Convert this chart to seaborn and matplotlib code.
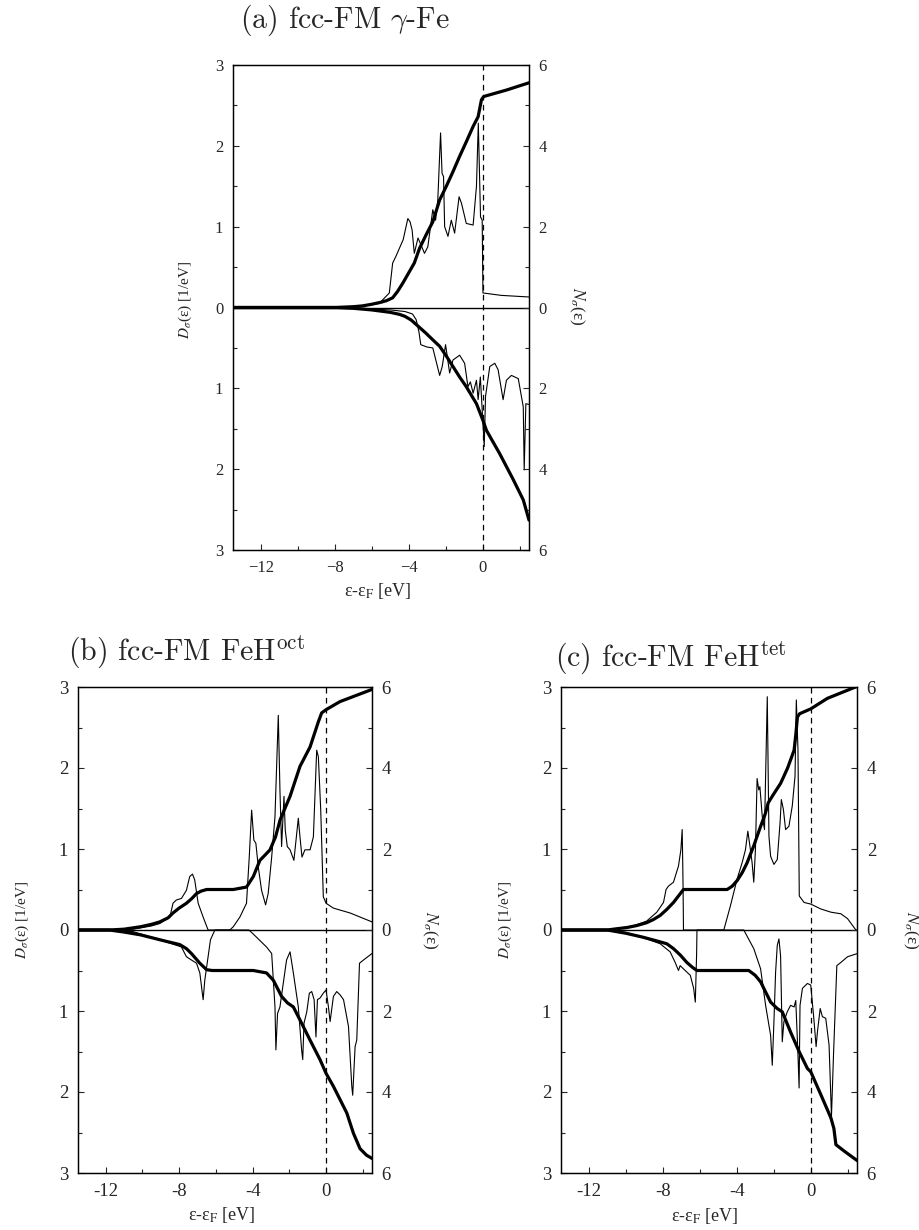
import matplotlib
matplotlib.use("Agg")
import numpy as np
import matplotlib.pyplot as plt
import seaborn as sns
from matplotlib.ticker import MultipleLocator

sns.set_theme(style="ticks")
plt.rcParams["font.family"] = ["Liberation Serif", "DejaVu Serif"]
plt.rcParams["mathtext.fontset"] = "stix"

# ---------------------------------------------------------------------------
# (a) fcc-FM gamma-Fe : spin-resolved DOS [1/eV] and integrated N [electrons]
# ---------------------------------------------------------------------------
a_up_e = [-13.5, -7.5, -6.5, -5.6, -5.05, -4.87, -4.7, -4.3, -4.05, -3.93, -3.82,
          -3.7, -3.5, -3.33, -3.15, -2.97, -2.7, -2.55, -2.43, -2.28, -2.2, -2.12,
          -2.06, -1.88, -1.7, -1.52, -1.28, -1.15, -0.89, -0.52, -0.34, -0.24,
          -0.12, -0.03, 0.01, 1.0, 2.5]
a_up_dos = [0.0, 0.0, 0.02, 0.05, 0.18, 0.55, 0.63, 0.84, 1.10, 1.06, 0.96,
            0.67, 0.86, 0.77, 0.67, 0.75, 1.21, 1.08, 1.33, 2.16, 1.66, 1.62,
            1.0, 0.88, 1.08, 0.92, 1.37, 1.29, 1.04, 1.02, 1.50, 2.28,
            1.12, 1.08, 0.18, 0.15, 0.13]
a_up_ne = [-13.5, -8.0, -7.0, -6.5, -6.0, -5.5, -5.2, -4.87, -4.6, -4.3, -4.0,
           -3.7, -3.42, -3.06, -2.70, -2.33, -1.97, -1.61, -1.25, -0.89, -0.52,
           -0.25, -0.07, 0.05, 1.28, 2.5]
a_up_n = [0.0, 0.0, 0.02, 0.04, 0.08, 0.13, 0.17, 0.24, 0.40, 0.62, 0.86,
          1.10, 1.46, 1.80, 2.12, 2.66, 3.00, 3.36, 3.74, 4.10, 4.48,
          4.72, 5.14, 5.22, 5.38, 5.56]
a_dn_e = [-13.5, -8.0, -7.0, -6.0, -5.0, -4.2, -3.8, -3.6, -3.45, -3.35, -3.0,
          -2.7, -2.33, -2.19, -2.01, -1.79, -1.61, -1.25, -0.98, -0.80, -0.67,
          -0.52, -0.34, -0.25, -0.13, 0.0, 0.08, 0.15, 0.38, 0.65, 0.83, 1.1,
          1.28, 1.55, 1.92, 2.19, 2.24, 2.33, 2.5]
a_dn_dos = [0.0, 0.0, 0.01, 0.02, 0.03, 0.05, 0.08, 0.15, 0.30, 0.46, 0.49,
            0.50, 0.84, 0.73, 0.46, 0.81, 0.65, 0.59, 0.69, 0.98, 0.92,
            1.06, 0.90, 1.14, 0.86, 1.39, 1.72, 1.10, 0.73, 0.69, 0.77, 1.14,
            0.90, 0.84, 0.88, 1.23, 2.01, 1.19, 1.20]
a_dn_ne = [-13.5, -8.0, -7.0, -6.0, -5.0, -4.5, -4.2, -3.87, -3.5, -3.06, -2.7,
           -2.33, -1.97, -1.61, -1.25, -0.89, -0.34, 0.0, 0.2, 0.92, 1.65,
           2.19, 2.5]
a_dn_n = [0.0, 0.0, 0.02, 0.06, 0.12, 0.17, 0.22, 0.31, 0.46, 0.64, 0.80,
          0.96, 1.20, 1.46, 1.72, 1.96, 2.38, 2.78, 3.04, 3.62, 4.26,
          4.76, 5.26]

# ---------------------------------------------------------------------------
# (b) fcc-FM FeH (octahedral H)
# ---------------------------------------------------------------------------
b_up_e = [-13.5, -11.8, -10.5, -9.5, -9.05, -8.5, -8.33, -8.15, -7.87, -7.6,
          -7.42, -7.27, -7.15, -6.96, -6.69, -6.42, -5.24, -5.05, -4.69, -4.33,
          -4.18, -4.05, -3.93, -3.82, -3.69, -3.51, -3.29, -3.15, -2.96, -2.78,
          -2.6, -2.51, -2.42, -2.29, -2.22, -2.11, -1.96, -1.75, -1.51, -1.42,
          -1.31, -1.15, -0.87, -0.69, -0.51, -0.42, -0.29, -0.15, 0.0, 0.4,
          1.31, 2.5]
b_up_dos = [0.0, 0.0, 0.01, 0.05, 0.08, 0.16, 0.33, 0.37, 0.39, 0.49,
            0.66, 0.69, 0.62, 0.33, 0.16, 0.0, 0.0, 0.04, 0.16, 0.33,
            0.90, 1.48, 1.11, 1.07, 0.78, 0.49, 0.31, 0.45, 0.90, 1.40,
            2.65, 1.73, 1.03, 1.65, 1.23, 1.03, 0.99, 0.86, 1.38, 1.15,
            0.90, 0.99, 0.99, 1.15, 2.22, 2.14, 1.48, 0.41, 0.33, 0.27,
            0.21, 0.10]
b_up_ne = [-13.5, -11.8, -11.0, -10.1, -9.5, -9.05, -8.6, -8.33, -8.0, -7.6,
           -7.3, -7.05, -6.8, -6.5, -5.05, -4.33, -3.96, -3.6, -3.3, -3.05,
           -2.75, -2.5, -1.96, -1.42, -0.87, -0.42, -0.24, 0.0, 0.76, 2.5]
b_up_n = [0.0, 0.0, 0.02, 0.08, 0.14, 0.20, 0.30, 0.42, 0.54, 0.66,
          0.78, 0.90, 0.96, 1.00, 1.00, 1.06, 1.32, 1.72, 1.86, 1.98,
          2.30, 2.72, 3.30, 4.04, 4.52, 5.14, 5.36, 5.44, 5.64, 5.94]
b_dn_e = [-13.5, -11.8, -10.5, -9.05, -7.87, -7.6, -7.33, -7.05, -6.87, -6.69,
          -6.6, -6.42, -6.29, -6.05, -4.2, -3.96, -3.24, -2.96, -2.78, -2.73,
          -2.64, -2.51, -2.33, -2.15, -1.96, -1.78, -1.51, -1.33, -1.27, -1.2,
          -1.05, -0.91, -0.78, -0.65, -0.55, -0.47, -0.33, -0.15, 0.0, 0.13,
          0.22, 0.4, 0.58, 0.76, 0.95, 1.22, 1.4, 1.45, 1.58, 1.67, 1.82,
          2.04, 2.5]
b_dn_dos = [0.0, 0.0, 0.02, 0.12, 0.21, 0.33, 0.37, 0.41, 0.53, 0.86,
            0.62, 0.33, 0.12, 0.0, 0.0, 0.05, 0.21, 0.29, 0.95, 1.48,
            1.03, 0.95, 0.66, 0.37, 0.27, 0.53, 0.95, 1.48, 1.60, 1.15,
            1.01, 0.78, 0.76, 0.86, 1.32, 0.86, 0.84, 0.78, 0.74, 0.95,
            1.13, 0.82, 0.76, 0.80, 0.86, 1.19, 1.93, 2.04, 1.44, 1.36, 0.41,
            0.37, 0.29]
b_dn_ne = [-13.5, -11.8, -11.0, -10.1, -9.4, -8.7, -7.96, -7.6, -7.33, -7.1,
           -6.87, -6.5, -6.2, -3.96, -3.24, -2.87, -2.42, -2.1, -1.78, -1.42,
           -0.87, -0.33, 0.0, 0.4, 1.13, 1.49, 1.85, 2.2, 2.5]
b_dn_n = [0.0, 0.0, 0.05, 0.12, 0.20, 0.28, 0.36, 0.46, 0.58, 0.70,
          0.82, 0.98, 1.00, 1.00, 1.06, 1.24, 1.64, 1.80, 1.90, 2.22,
          2.72, 3.20, 3.54, 3.86, 4.52, 5.02, 5.40, 5.56, 5.64]

# ---------------------------------------------------------------------------
# (c) fcc-FM FeH (tetrahedral H)
# ---------------------------------------------------------------------------
c_up_e = [-13.5, -11.0, -9.6, -8.87, -8.32, -7.96, -7.82, -7.7, -7.42, -7.15,
          -7.02, -6.95, -6.92, -6.90, -6.88, -4.7, -4.34, -3.98, -3.71, -3.53,
          -3.4, -3.29, -3.17, -3.08, -2.99, -2.9, -2.81, -2.75, -2.62, -2.5,
          -2.35, -2.26, -2.17, -1.99, -1.81, -1.66, -1.59, -1.48, -1.36, -1.18,
          -1.0, -0.85, -0.78, -0.69, -0.62, -0.36, 0.0, 0.54, 1.09, 1.63,
          1.99, 2.44, 2.53]
c_up_dos = [0.0, 0.0, 0.05, 0.11, 0.22, 0.34, 0.50, 0.54, 0.59, 0.79,
            0.99, 1.24, 0.83, 0.50, 0.0, 0.0, 0.30, 0.63, 0.83, 0.99,
            1.22, 1.04, 0.83, 0.59, 0.99, 1.87, 1.73, 1.77, 1.40, 1.24,
            2.88, 1.16, 0.91, 0.81, 0.87, 1.32, 1.61, 1.49, 1.24, 1.28,
            1.53, 1.90, 2.84, 2.22, 0.42, 0.34, 0.32, 0.26, 0.22, 0.20,
            0.14, 0.0, 0.0]
c_up_ne = [-13.5, -11.0, -10.5, -9.95, -9.4, -8.87, -8.5, -8.14, -7.8, -7.42,
           -7.15, -6.88, -4.52, -4.25, -3.98, -3.7, -3.44, -3.08, -2.71,
           -2.45, -2.3, -2.0, -1.63, -1.25, -0.9, -0.8, -0.72, -0.6, 0.0,
           0.9, 2.53]
c_up_n = [0.0, 0.0, 0.03, 0.06, 0.11, 0.18, 0.26, 0.36, 0.50, 0.68,
          0.84, 1.00, 1.00, 1.08, 1.22, 1.42, 1.66, 2.08, 2.56,
          2.88, 3.14, 3.36, 3.62, 4.00, 4.44, 4.86, 5.26, 5.34, 5.46,
          5.72, 6.02]
c_dn_e = [-13.5, -11.0, -10.0, -8.87, -8.14, -7.6, -7.33, -7.15, -7.06, -6.88,
          -6.51, -6.33, -6.24, -6.17, -6.15, -3.62, -3.08, -2.71, -2.44, -2.17,
          -2.08, -1.99, -1.9, -1.81, -1.72, -1.63, -1.54, -1.45, -1.27, -1.09,
          -0.9, -0.81, -0.69, -0.63, -0.58, -0.45, -0.18, 0.0, 0.18, 0.29,
          0.36, 0.51, 0.63, 0.81, 0.99, 1.12, 1.23, 1.41, 1.63, 1.99, 2.53]
c_dn_dos = [0.0, 0.0, 0.03, 0.11, 0.17, 0.27, 0.40, 0.50, 0.44, 0.48,
            0.56, 0.72, 0.89, 0.30, 0.0, 0.0, 0.23, 0.48, 0.93, 1.30,
            1.67, 1.13, 0.52, 0.19, 0.11, 0.32, 1.38, 1.13, 1.01, 0.93,
            0.95, 0.87, 1.54, 1.95, 0.93, 0.72, 0.66, 0.68, 1.13, 1.44,
            1.26, 0.97, 1.07, 1.09, 1.42, 2.30, 1.54, 0.44, 0.40, 0.33, 0.29]
c_dn_ne = [-13.5, -11.0, -10.0, -9.05, -8.4, -7.78, -7.42, -7.05, -6.7, -6.4,
           -6.15, -3.35, -3.0, -2.71, -2.17, -1.81, -1.54, -1.09, -0.63, -0.18,
           0.0, 0.54, 1.09, 1.25, 1.36, 1.81, 2.53]
c_dn_n = [0.0, 0.0, 0.08, 0.18, 0.26, 0.34, 0.46, 0.62, 0.80, 0.92,
          1.00, 1.00, 1.12, 1.28, 1.78, 1.94, 2.02, 2.52, 3.00, 3.42,
          3.50, 4.06, 4.64, 4.90, 5.30, 5.46, 5.70]

# Axis tick values and their printed labels
dos_ticks = [-3, -2, -1, 0, 1, 2, 3]
dos_ticklabels = ["3", "2", "1", "0", "1", "2", "3"]
n_ticks = [-6, -4, -2, 0, 2, 4, 6]
n_ticklabels = ["6", "4", "2", "0", "2", "4", "6"]
e_ticks = [-12, -8, -4, 0]
e_ticklabels_a = ["\u221212", "\u22128", "\u22124", "0"]
e_ticklabels_bc = ["-12", "-8", "-4", "0"]

titles = ["(a) fcc-FM $\\gamma$-Fe",
          "(b) fcc-FM FeH$^{\\rm oct}$",
          "(c) fcc-FM FeH$^{\\rm tet}$"]

W, H = 919, 1230
fig = plt.figure(figsize=(W / 100, H / 100), dpi=100)
fig.patch.set_facecolor("white")


def fx(px):
    return px / W


def fy(py):
    return 1 - py / H


def panel(box, up, dn, title, title_pos, xlabels, tick_size, labels_pos):
    left, top, right, bottom = box
    ax = fig.add_axes([fx(left), fy(bottom), fx(right - left), (bottom - top) / H])
    ax.set_facecolor("white")
    ax2 = ax.twinx()

    (ue, ud, une, un), (de, dd, dne, dnn) = up, dn
    thin, thick = 0.8, 2.3
    sns.lineplot(x=ue, y=ud, ax=ax, color="black", lw=thin,
                 estimator=None, sort=False)
    sns.lineplot(x=de, y=-np.asarray(dd), ax=ax, color="black", lw=thin,
                 estimator=None, sort=False)
    sns.lineplot(x=une, y=un, ax=ax2, color="black", lw=thick,
                 estimator=None, sort=False)
    sns.lineplot(x=dne, y=-np.asarray(dnn), ax=ax2, color="black", lw=thick,
                 estimator=None, sort=False)
    ax.axhline(0, color="black", lw=1.0)
    ax.axvline(0, color="black", lw=0.9, ls=(0, (4.5, 3.5)))

    ax.set_xlim(-13.5, 2.5)
    ax.set_ylim(-3, 3)
    ax2.set_ylim(-6, 6)

    ax.set_xticks(e_ticks)
    ax.set_xticklabels(xlabels)
    ax.xaxis.set_minor_locator(MultipleLocator(2))
    ax.set_yticks(dos_ticks)
    ax.set_yticklabels(dos_ticklabels)
    ax.yaxis.set_minor_locator(MultipleLocator(0.5))
    ax2.set_yticks(n_ticks)
    ax2.set_yticklabels(n_ticklabels)
    ax2.yaxis.set_minor_locator(MultipleLocator(1))

    for a in (ax, ax2):
        a.set_xlabel("")
        a.set_ylabel("")
        a.tick_params(which="both", direction="in", width=0.8,
                      labelsize=tick_size, pad=7)
        a.tick_params(which="major", length=4.5)
        a.tick_params(which="minor", length=3)
        for s in a.spines.values():
            s.set_linewidth(0.9)
            s.set_color("black")
    ax.tick_params(right=False, top=False)
    ax2.tick_params(left=False, top=False, bottom=False)

    fig.text(fx(title_pos[0]), fy(title_pos[1]), title, family="cmr10",
             math_fontfamily="cm", fontsize=21.5, ha="left", va="baseline")
    (ylx, yly), (nlx, nly), (xlx, xly) = labels_pos
    fig.text(fx(ylx), fy(yly), "$D_\\sigma$(ε) [1/eV]", rotation=90,
             ha="center", va="center", fontsize=11)
    fig.text(fx(nlx), fy(nly), "$N_\\sigma$(ε)", rotation=270,
             ha="center", va="center", fontsize=12.5)
    fig.text(fx(xlx), fy(xly), "ε-ε$_\\mathrm{F}$ [eV]",
             ha="center", va="center", fontsize=13)
    return ax


panel((233, 65, 529, 550),
      (a_up_e, a_up_dos, a_up_ne, a_up_n), (a_dn_e, a_dn_dos, a_dn_ne, a_dn_n),
      titles[0], (240, 28), e_ticklabels_a, 12,
      ((185, 300), (577, 306), (378, 591)))
panel((78, 687, 372, 1173),
      (b_up_e, b_up_dos, b_up_ne, b_up_n), (b_dn_e, b_dn_dos, b_dn_ne, b_dn_n),
      titles[1], (68, 660), e_ticklabels_bc, 13.5,
      ((22, 920), (430, 930), (222, 1215)))
panel((561, 687, 857, 1173),
      (c_up_e, c_up_dos, c_up_ne, c_up_n), (c_dn_e, c_dn_dos, c_dn_ne, c_dn_n),
      titles[2], (555, 666), e_ticklabels_bc, 13.5,
      ((505, 920), (911, 930), (705, 1216)))

fig.savefig("out.png", dpi=100, facecolor="white")
